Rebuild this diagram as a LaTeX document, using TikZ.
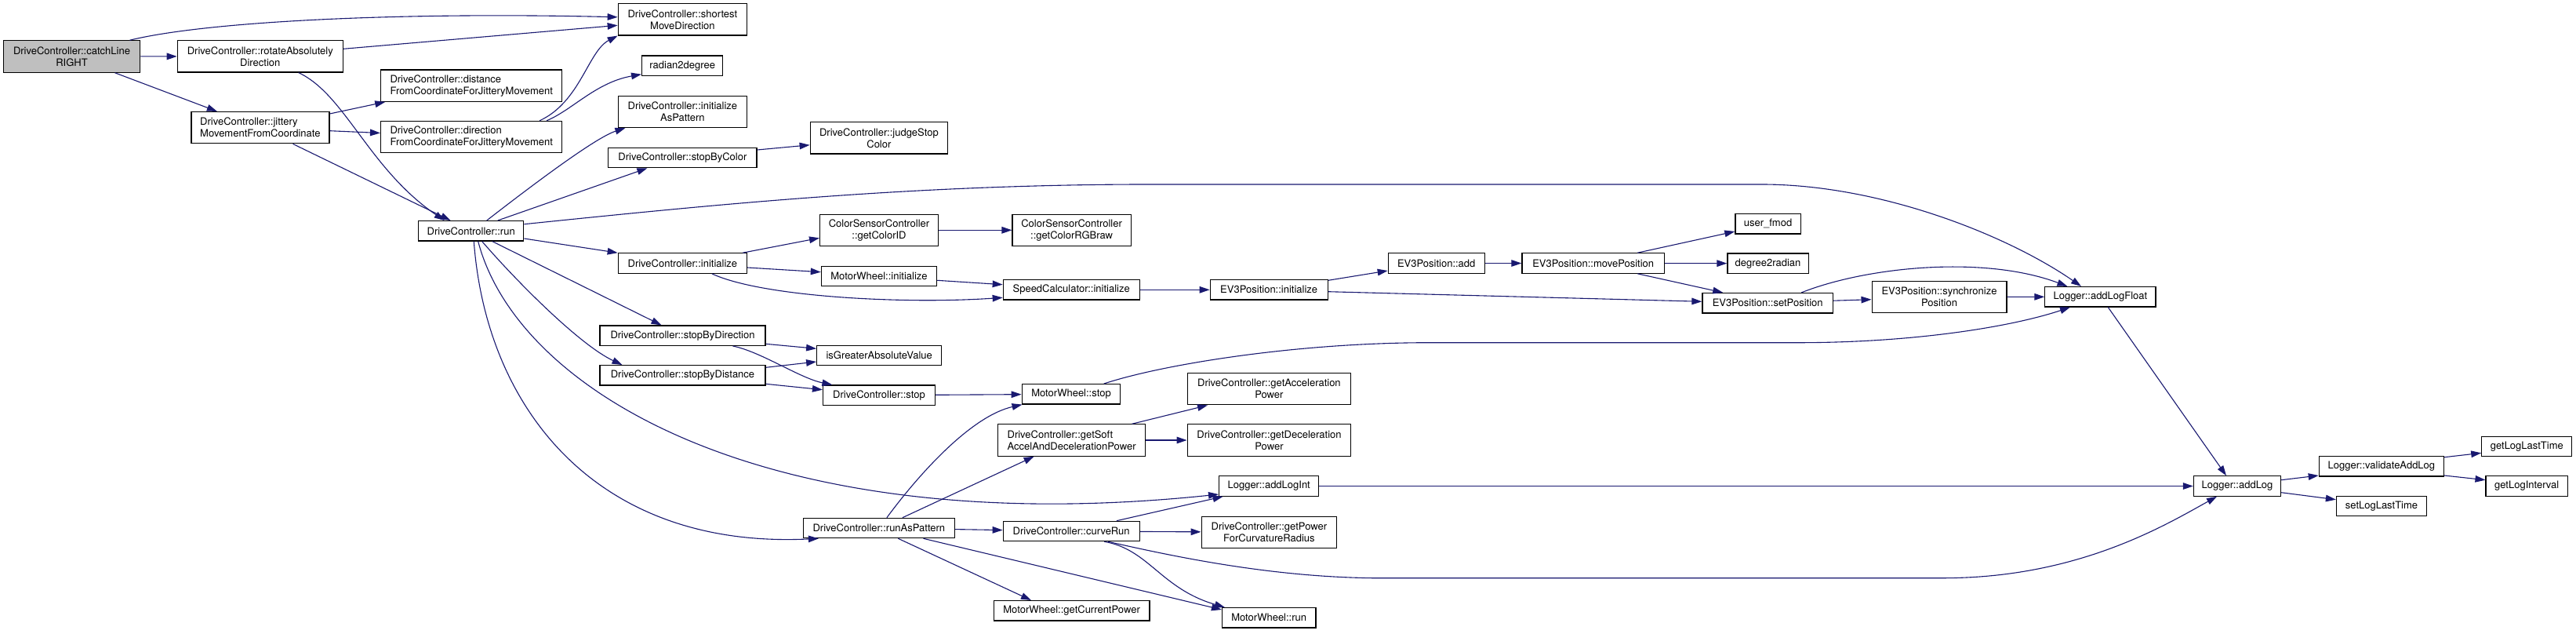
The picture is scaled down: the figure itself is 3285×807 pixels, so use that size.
\documentclass[tikz,border=0pt]{standalone}
\usepackage{fontspec}
\setmainfont{TeX Gyre Heros}
\usetikzlibrary{arrows.meta}

\definecolor{callblue}{HTML}{191970}
\definecolor{rootgray}{HTML}{BFBFBF}

\begin{document}
\begin{tikzpicture}[x=1pt, y=-1pt,
  fn/.style={draw=black, line width=1.2pt, fill=white, inner xsep=2pt, inner ysep=0pt,
    font=\fontsize{13}{15}\selectfont, align=center, minimum height=25.4},
  fn2/.style={fn, minimum height=40.3},
  fnl/.style={fn2, align=left},
  root/.style={fill=rootgray},
  call/.style={draw=callblue, line width=1.1pt, -{Triangle[length=13pt,width=8.6pt]}}]

  %% ==== column 0: the caller ====
  \node[fn2, root, minimum width=174.7] (catchLine) at (91.5,72) {DriveController::catchLine\\RIGHT};

  %% ==== column 1 ====
  \node[fn2, minimum width=211] (rotateAbs) at (331.8,71.8) {DriveController::rotateAbsolutely\\Direction};
  \node[fnl, minimum width=176] (jittery) at (331.9,162.7) {DriveController::jittery\\MovementFromCoordinate};

  %% ==== column 2 ====
  \node[fnl, minimum width=231.3] (distance) at (601.2,109.2) {DriveController::distance\\FromCoordinateForJitteryMovement};
  \node[fnl, minimum width=231.3] (direction) at (601.2,174.5) {DriveController::direction\\FromCoordinateForJitteryMovement};
  \node[fn, minimum width=134.2] (run) at (600.7,294.3) {DriveController::run};

  %% ==== column 3 ====
  \node[fn2, minimum width=164.3] (shortest) at (870.4,24.8) {DriveController::shortest\\MoveDirection};
  \node[fn, minimum width=103.2] (radian) at (870.2,83.7) {radian2degree};
  \node[fn2, minimum width=164.3] (initAsPattern) at (870.4,142.5) {DriveController::initialize\\AsPattern};
  \node[fn, minimum width=189.3] (stopByColor) at (870.4,201) {DriveController::stopByColor};
  \node[fn, minimum width=164.3] (initialize) at (870.4,335.5) {DriveController::initialize};
  \node[fn, minimum width=211] (stopByDir) at (870.5,427.7) {DriveController::stopByDirection};
  \node[fn, minimum width=211] (stopByDist) at (870.5,478.3) {DriveController::stopByDistance};

  %% ==== column 4 ====
  \node[fn2, minimum width=175.4] (judgeStop) at (1120.9,175.8) {DriveController::judgeStop\\Color};
  \node[fn2, minimum width=150.8] (getColorID) at (1121,293.3) {ColorSensorController\\::getColorID};
  \node[fn, minimum width=147.2] (mwInit) at (1121,352) {MotorWheel::initialize};
  \node[fn, minimum width=159] (isGreater) at (1121.2,453) {isGreaterAbsoluteValue};
  \node[fn, minimum width=142.9] (stop) at (1121,503.7) {DriveController::stop};
  \node[fn, minimum width=193.3] (runAsPattern) at (1120.9,673) {DriveController::runAsPattern};

  %% ==== column 5 ====
  \node[fn2, minimum width=151.1] (getColorRGB) at (1366.6,293.3) {ColorSensorController\\::getColorRGBraw};
  \node[fn, minimum width=173.9] (speedCalc) at (1366.2,369.3) {SpeedCalculator::initialize};
  \node[fn, minimum width=125.7] (mwStop) at (1366,502.3) {MotorWheel::stop};
  \node[fnl, minimum width=188.2] (getSoft) at (1366.6,561) {DriveController::getSoft\\AccelAndDecelerationPower};
  \node[fn, minimum width=173.9] (curveRun) at (1366.2,677) {DriveController::curveRun};
  \node[fn, minimum width=198.9] (getCurPower) at (1366.6,778.3) {MotorWheel::getCurrentPower};

  %% ==== column 6 ====
  \node[fn, minimum width=150] (ev3Init) at (1618.2,369.3) {EV3Position::initialize};
  \node[fn2, minimum width=207.5] (getAccel) at (1618.4,495.7) {DriveController::getAcceleration\\Power};
  \node[fn2, minimum width=208.7] (getDecel) at (1618.5,561) {DriveController::getDeceleration\\Power};
  \node[fn, minimum width=127.2] (addLogInt) at (1618.2,619.5) {Logger::addLogInt};
  \node[fn2, minimum width=172.5] (getPower) at (1618.4,678.3) {DriveController::getPower\\ForCurvatureRadius};
  \node[fn, minimum width=119.4] (mwRun) at (1618.2,787.3) {MotorWheel::run};

  %% ==== EV3Position / Logger chain ====
  \node[fn, minimum width=122.9] (add) at (1831.7,335.5) {EV3Position::add};
  \node[fn, minimum width=181.5] (movePos) at (2031.7,335.5) {EV3Position::movePosition};
  \node[fn, minimum width=83.2] (userFmod) at (2254.5,285.2) {user\_fmod};
  \node[fn, minimum width=103.2] (deg2rad) at (2254.5,335.7) {degree2radian};
  \node[fn, minimum width=166.5] (setPos) at (2254.2,386.2) {EV3Position::setPosition};
  \node[fn2, minimum width=171.8] (syncPos) at (2473,378.5) {EV3Position::synchronize\\Position};
  \node[fn, minimum width=141.1] (addLogFloat) at (2678.4,378.2) {Logger::addLogFloat};
  \node[fn, minimum width=111.2] (addLog) at (2853,619.5) {Logger::addLog};
  \node[fn, minimum width=159.2] (validate) at (3036.9,594.3) {Logger::validateAddLog};
  \node[fn, minimum width=115.1] (setLogLast) at (3037,645) {setLogLastTime};
  \node[fn, minimum width=115] (getLogLast) at (3222.3,569) {getLogLastTime};
  \node[fn, minimum width=104.3] (getLogInterval) at (3222.2,619.5) {getLogInterval};

  %% ==== calls ====
  \draw[call] ([xshift=-14]catchLine.north east) .. controls (260,28) and (500,15) .. ([yshift=3]shortest.west);
  \draw[call] (catchLine) -- (rotateAbs);
  \draw[call] ([xshift=55]catchLine.south) -- ([xshift=-55]jittery.north);
  \draw[call] ([yshift=9.5]rotateAbs.east) -- ([yshift=-7.5]shortest.west);
  \draw[call] ([xshift=48.8]rotateAbs.south) .. controls (440,120) and (470,215) .. ([xshift=-34]run.north);
  \draw[call] ([yshift=17.7]jittery.east) -- ([xshift=-110]distance.south);
  \draw[call] ([yshift=-4]jittery.east) -- ([yshift=5]direction.west);
  \draw[call] ([xshift=41.7]jittery.south) -- ([xshift=-26]run.north);
  \draw[call] ([xshift=87]direction.north) .. controls (740,130) and (750,65) .. (shortest.south west);
  \draw[call] ([xshift=96]direction.north) .. controls (730,140) and (760,105) .. ([yshift=-11]radian.west);

  % run
  \draw[call] ([xshift=20]run.north) .. controls (680,235) and (760,175) .. ([xshift=-73]initAsPattern.south);
  \draw[call] ([xshift=34]run.north) -- ([xshift=-45]stopByColor.south);
  \draw[call] ([yshift=8.6]run.east) .. controls (900,262) and (1150,236) .. (1450,235)
    -- (2250,235) .. controls (2400,236) and (2560,300) .. ([xshift=-24.4]addLogFloat.north);
  \draw[call] ([yshift=-9.7]run.east) -- (initialize.north west);
  \draw[call] ([xshift=27]run.south) -- ([xshift=-27]stopByDir.north);
  \draw[call] ([xshift=14]run.south) .. controls (660,360) and (740,440) .. ([xshift=-77]stopByDist.north);
  \draw[call] ([xshift=9]run.south) .. controls (660,500) and (980,690) .. ([yshift=-10.5]addLogInt.west);
  \draw[call] ([xshift=3.6]run.south) .. controls (620,520) and (760,700) .. ([xshift=-77]runAsPattern.south);

  % initialize
  \draw[call] ([xshift=76.7]initialize.north) -- ([yshift=-10]getColorID.west);
  \draw[call] ([yshift=-5.5]initialize.east) -- ([yshift=5.3]mwInit.west);
  \draw[call] ([xshift=37.4]initialize.south) .. controls (970,378) and (1150,388) .. ([yshift=-10]speedCalc.west);
  \draw[call] ([yshift=-5.3]mwInit.east) -- ([yshift=6.6]speedCalc.west);
  \draw[call] (getColorID) -- (getColorRGB);
  \draw[call] ([yshift=10]stopByColor.east) -- ([yshift=-9]judgeStop.west);
  \draw[call] (speedCalc) -- (ev3Init);
  \draw[call] ([yshift=12]ev3Init.east) -- ([yshift=-9.5]add.west);
  \draw[call] ([yshift=-2.4]ev3Init.east) -- ([yshift=1.9]setPos.west);
  \draw[call] (add) -- (movePos);
  \draw[call] ([xshift=56.5]movePos.north) -- ([yshift=-9.8]userFmod.west);
  \draw[call] (movePos) -- (deg2rad);
  \draw[call] ([xshift=56.5]movePos.south) -- ([xshift=-57]setPos.north);
  \draw[call] ([yshift=3]setPos.east) -- ([yshift=-3.2]syncPos.west);
  \draw[call] ([xshift=43]setPos.north) .. controls (2380,340) and (2530,325) .. ([xshift=-42]addLogFloat.north);
  \draw[call] (syncPos) -- (addLogFloat);
  \draw[call] ([xshift=9.8]addLogFloat.south) -- ([xshift=-14]addLog.north);

  % stop
  \draw[call] ([yshift=-10.6]stopByDir.east) -- ([yshift=8.7]isGreater.west);
  \draw[call] ([xshift=64]stopByDir.south) .. controls (970,448) and (1020,482) .. ([xshift=-59.6]stop.north);
  \draw[call] ([yshift=10]stopByDist.east) -- ([yshift=-8]isGreater.west);
  \draw[call] ([yshift=-11]stopByDist.east) -- ([yshift=7]stop.west);
  \draw[call] (stop) -- (mwStop);
  \draw[call] ([xshift=41.8]mwStop.north) .. controls (1480,465) and (1650,437) .. (1820,436.7)
    -- (2300,436.7) .. controls (2450,436) and (2570,415) .. ([xshift=-38.4]addLogFloat.south);

  % runAsPattern
  \draw[call] ([xshift=10]runAsPattern.north) .. controls (1175,600) and (1240,530) .. ([xshift=1]mwStop.south west);
  \draw[call] ([xshift=30]runAsPattern.north) -- ([xshift=-48]getSoft.south);
  \draw[call] (runAsPattern) -- (curveRun);
  \draw[call] ([xshift=24.5]runAsPattern.south) -- ([xshift=-51.6]getCurPower.north);
  \draw[call] ([xshift=56.6]runAsPattern.south) -- ([yshift=-3]mwRun.north west);
  \draw[call] ([xshift=77]getSoft.north) -- ([xshift=-78.4]getAccel.south);
  \draw[call] (getSoft) -- (getDecel);
  \draw[call] ([xshift=57.7]curveRun.north) -- ([xshift=-58.6]addLogInt.south);
  \draw[call] (curveRun) -- (getPower);
  \draw[call] ([xshift=47]curveRun.south) .. controls (1500,710) and (1620,735) .. (1750,736.7)
    -- (2480,736.7) .. controls (2650,736) and (2760,670) .. ([xshift=-26]addLog.south);
  \draw[call] ([xshift=42]curveRun.south) .. controls (1465,700) and (1480,750) .. ([xshift=4]mwRun.north west);

  % Logger
  \draw[call] (addLogInt) -- (addLog);
  \draw[call] ([yshift=7.8]addLog.east) -- ([yshift=-11.7]validate.west);
  \draw[call] ([yshift=-8.2]addLog.east) -- ([yshift=8.3]setLogLast.west);
  \draw[call] ([yshift=11.6]validate.east) -- ([yshift=-8.3]getLogLast.west);
  \draw[call] ([yshift=-11.7]validate.east) -- ([yshift=7.8]getLogInterval.west);

  % fix the canvas
  \pgfresetboundingbox
  \path[use as bounding box] (0,0) rectangle (3285,807);
\end{tikzpicture}
\end{document}
